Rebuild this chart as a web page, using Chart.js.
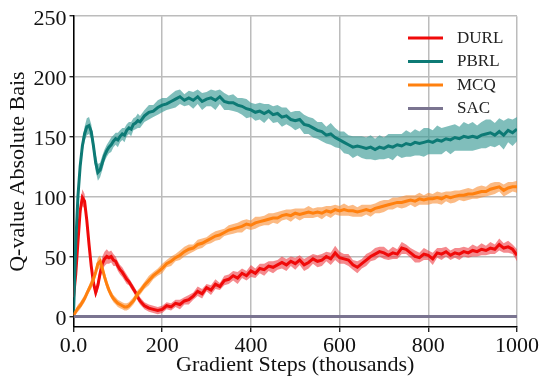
<!DOCTYPE html>
<html>
<head>
<meta charset="utf-8">
<script src="https://cdn.jsdelivr.net/npm/chart.js@4.4.0/dist/chart.umd.min.js"></script>
<style>
  html, body { margin: 0; padding: 0; background: #fff; }
  #wrap { width: 544px; height: 377px; }
</style>
</head>
<body>
<div id="wrap"><canvas id="chart_QBias" width="544" height="377"></canvas></div>
<script>
"use strict";

// Gradient steps (thousands): every 5k up to 150k, then every 10k
var steps = [
  0, 5, 10, 15, 20, 25, 30, 35, 40, 45, 50, 55, 60, 65, 70, 75, 80, 85, 90, 95, 100, 105, 110, 115, 120, 125, 130, 135, 140, 145, 150,
  160, 170, 180, 190, 200, 210, 220, 230, 240, 250,
  260, 270, 280, 290, 300, 310, 320, 330, 340, 350,
  360, 370, 380, 390, 400, 410, 420, 430, 440, 450,
  460, 470, 480, 490, 500, 510, 520, 530, 540, 550,
  560, 570, 580, 590, 600, 610, 620, 630, 640, 650,
  660, 670, 680, 690, 700, 710, 720, 730, 740, 750,
  760, 770, 780, 790, 800, 810, 820, 830, 840, 850,
  860, 870, 880, 890, 900, 910, 920, 930, 940, 950,
  960, 970, 980, 990, 1000
];

var durl_mean = [
  16, 35, 62, 88, 99, 96, 80, 60, 42, 28, 20, 26, 36, 44, 48, 50, 49, 50, 47, 46, 42, 39, 37, 34, 31, 29, 26, 23, 20, 16, 13,
  9, 7, 6, 5, 6, 9, 8, 11, 10, 13,
  14, 17, 21, 19, 24, 22, 27, 25, 30, 31,
  34, 32, 36, 34, 38, 36, 40, 39, 42, 41,
  43, 45, 43, 46, 44, 47, 43, 45, 48, 46,
  47, 50, 48, 53, 49, 48, 47, 43, 41, 44,
  47, 50, 52, 54, 53, 51, 53, 52, 57, 56,
  53, 50, 49, 52, 51, 48, 53, 52, 54, 51,
  53, 52, 54, 53, 55, 54, 56, 55, 57, 56,
  60, 57, 58, 56, 51
];
var durl_std = [
  3, 4, 5, 6, 7, 6, 5, 5, 4, 4, 4, 5, 5, 6, 6, 6, 5, 5, 5, 4, 4, 4, 4, 4, 4, 3, 3, 3, 3, 3, 3,
  3, 3, 3, 3, 3, 3, 3, 3, 4, 3,
  4, 3, 4, 4, 3, 4, 4, 3, 4, 4,
  4, 5, 4, 4, 5, 4, 4, 5, 4, 5,
  4, 5, 5, 4, 5, 4, 5, 5, 4, 5,
  5, 4, 5, 6, 5, 4, 5, 4, 5, 4,
  5, 4, 5, 4, 5, 4, 5, 4, 5, 4,
  4, 5, 4, 5, 4, 5, 4, 5, 4, 4,
  4, 5, 4, 4, 5, 4, 5, 4, 5, 4,
  5, 4, 5, 4, 5
];

var pbrl_mean = [
  2, 60, 100, 125, 142, 152, 158, 159, 154, 142, 128, 120, 122, 128, 134, 138, 141, 143, 146, 148, 147, 150, 152, 151, 155, 157, 156, 160, 161, 163, 162,
  167, 170, 171, 174, 176, 177, 179, 181, 183, 180,
  182, 180, 183, 179, 181, 182, 180, 183, 179, 178,
  178, 176, 175, 173, 172, 170, 171, 169, 171, 168,
  169, 166, 167, 164, 163, 164, 160, 159, 157, 155,
  154, 151, 152, 149, 147, 145, 143, 141, 142, 141,
  140, 141, 139, 141, 140, 142, 141, 143, 142, 144,
  143, 145, 144, 145, 146, 145, 147, 146, 148, 147,
  149, 148, 150, 149, 150, 149, 151, 152, 153, 151,
  154, 151, 155, 153, 156
];
var pbrl_std = [
  2, 4, 5, 5, 6, 6, 7, 7, 6, 6, 7, 7, 6, 6, 5, 5, 5, 6, 5, 5, 6, 5, 5, 6, 5, 5, 6, 5, 5, 6, 5,
  5, 6, 5, 6, 6, 5, 6, 7, 6, 5,
  6, 7, 6, 7, 6, 7, 8, 6, 7, 6,
  7, 6, 7, 8, 6, 7, 7, 8, 6, 7,
  7, 8, 7, 6, 8, 7, 8, 7, 8, 7,
  8, 7, 9, 8, 7, 9, 8, 9, 8, 9,
  9, 10, 9, 10, 9, 10, 11, 9, 10, 11,
  10, 11, 10, 12, 11, 10, 12, 11, 10, 12,
  11, 10, 12, 11, 12, 10, 11, 12, 11, 10,
  11, 12, 10, 11, 10
];

var mcq_mean = [
  1, 4, 7, 9, 12, 15, 19, 23, 27, 31, 37, 44, 46, 40, 33, 27, 22, 18, 15, 13, 11, 10, 9, 8, 8, 9, 11, 13, 16, 19, 21,
  26, 30, 34, 37, 40, 44, 46, 49, 51, 54,
  56, 57, 60, 61, 63, 65, 67, 68, 70, 72,
  73, 74, 75, 77, 76, 78, 79, 80, 81, 82,
  82, 84, 85, 84, 86, 85, 86, 87, 86, 87,
  86, 88, 87, 89, 88, 89, 88, 88, 87, 88,
  89, 88, 90, 91, 92, 93, 94, 95, 95, 96,
  97, 96, 98, 97, 98, 98, 99, 98, 100, 99,
  100, 101, 101, 102, 102, 103, 104, 104, 106, 107,
  108, 105, 107, 108, 108
];
var mcq_std = [
  2, 2, 3, 3, 3, 3, 3, 3, 4, 4, 4, 5, 5, 4, 4, 4, 3, 3, 3, 3, 3, 3, 3, 3, 3, 3, 3, 3, 3, 3, 3,
  3, 4, 3, 3, 4, 3, 4, 3, 4, 4,
  4, 3, 4, 4, 3, 4, 4, 4, 3, 4,
  4, 4, 5, 4, 4, 5, 4, 4, 5, 4,
  5, 4, 4, 5, 4, 5, 4, 5, 4, 4,
  5, 4, 5, 4, 4, 5, 4, 5, 4, 5,
  4, 5, 4, 5, 5, 4, 5, 4, 5, 5,
  4, 5, 5, 4, 5, 4, 5, 5, 4, 5,
  5, 4, 5, 5, 4, 5, 5, 4, 5, 5,
  4, 5, 5, 4, 5
];

// SAC stays flat at zero
var sac_steps = [0, 1000];
var sac_mean = [0, 0];

var x_ticks = [0, 200, 400, 600, 800, 1000];
var y_ticks = [0, 50, 100, 150, 200, 250];

var series_names = ['DURL', 'PBRL', 'MCQ', 'SAC'];


function _to_points(_xs, _mean, _std, _sign) {
  // _sign: 0 -> mean, +1 -> upper edge, -1 -> lower edge
  return _xs.map(function(_x, _i) {
    var _y = _mean[_i];
    if (_sign !== 0) { _y = _y + _sign * _std[_i]; }
    return {x: _x, y: _y};
  });
}

function _band(_label, _mean, _std, _fill, _order) {
  return [
    {
      label: _label + ' low',
      data: _to_points(steps, _mean, _std, -1),
      borderWidth: 0,
      pointRadius: 0,
      fill: false,
      order: _order
    },
    {
      label: _label + ' high',
      data: _to_points(steps, _mean, _std, 1),
      borderWidth: 0,
      pointRadius: 0,
      backgroundColor: _fill,
      fill: '-1',
      order: _order
    }
  ];
}

function _line(_label, _xs, _mean, _color, _order) {
  return {
    label: _label,
    data: _to_points(_xs, _mean, null, 0),
    borderColor: _color,
    borderWidth: 3,
    pointRadius: 0,
    tension: 0,
    fill: false,
    order: _order,
    _legend: true
  };
}

var _colors = {
  DURL: '#f00a0a',
  PBRL: '#0d7a75',
  MCQ: '#ff800e',
  SAC: '#7a7490'
};

var _datasets = [].concat(
  _band('DURL', durl_mean, durl_std, 'rgba(238, 60, 66, 0.6)', 9),
  [_line(series_names[0], steps, durl_mean, _colors.DURL, 8)],
  _band('PBRL', pbrl_mean, pbrl_std, 'rgba(60, 155, 150, 0.65)', 7),
  [_line(series_names[1], steps, pbrl_mean, _colors.PBRL, 6)],
  _band('MCQ', mcq_mean, mcq_std, 'rgba(248, 140, 50, 0.6)', 5),
  [_line(series_names[2], steps, mcq_mean, _colors.MCQ, 4)],
  [_line(series_names[3], sac_steps, sac_mean, _colors.SAC, 3)]
);


// Legend inside the plot, no frame
var _legend_plugin = {
  id: 'inner_legend',
  afterDraw: function(_chart) {
    var _ctx = _chart.ctx;
    var _right = _chart.chartArea.right;
    var _items = _chart.data.datasets.filter(function(_d) { return _d._legend; });

    _ctx.save();
    _ctx.font = '17px "Liberation Serif", "Times New Roman", serif';
    _ctx.textBaseline = 'middle';
    _ctx.textAlign = 'left';

    _items.forEach(function(_ds, _i) {
      var _y = 38 + _i * 23.5;
      _ctx.strokeStyle = _ds.borderColor;
      _ctx.lineWidth = 3;
      _ctx.beginPath();
      _ctx.moveTo(_right - 109, _y);
      _ctx.lineTo(_right - 74, _y);
      _ctx.stroke();
      _ctx.fillStyle = '#222';
      _ctx.fillText(_ds.label, _right - 60, _y + 0.5);
    });
    _ctx.restore();
  }
};


var _serif = '"Liberation Serif", "Times New Roman", serif';

var _chart_QBias = new Chart(document.getElementById('chart_QBias'), {
  type: 'line',
  data: { datasets: _datasets },
  plugins: [_legend_plugin],
  options: {
    responsive: false,
    animation: false,
    parsing: true,
    layout: { padding: { top: 16, right: 27, bottom: 0, left: 0 } },
    plugins: {
      legend: { display: false },
      tooltip: { enabled: false }
    },
    scales: {
      x: {
        type: 'linear',
        min: 0,
        max: 1000,
        afterBuildTicks: function(_s) { _s.ticks = x_ticks.map(function(_v) { return {value: _v}; }); },
        afterFit: function(_s) { _s.height = 50; },
        ticks: {
          autoSkip: false,
          maxRotation: 0,
          padding: 1,
          color: '#111',
          font: { family: _serif, size: 22 },
          callback: function(_v) { return _v === 0 ? '0.0' : String(_v); }
        },
        grid: { color: '#bcbcbc', lineWidth: 1.5, tickLength: 5, tickColor: '#000', tickWidth: 1.2 },
        border: { color: '#000', width: 1.5 },
        title: {
          display: true,
          text: 'Gradient Steps (thousands)',
          color: '#111',
          font: { family: _serif, size: 22, lineHeight: 1 },
          padding: { top: 0, bottom: 1 }
        }
      },
      y: {
        type: 'linear',
        min: -8.7,
        max: 250,
        afterBuildTicks: function(_s) { _s.ticks = y_ticks.map(function(_v) { return {value: _v}; }); },
        afterFit: function(_s) { _s.width = 73.5; },
        ticks: {
          autoSkip: false,
          padding: 3,
          labelOffset: 3,
          color: '#111',
          font: { family: _serif, size: 22 }
        },
        grid: { color: '#bcbcbc', lineWidth: 1.5, tickLength: 4, tickColor: '#000', tickWidth: 1.2 },
        border: { color: '#000', width: 1.5 },
        title: {
          display: true,
          text: 'Q-value Absolute Bais',
          color: '#111',
          font: { family: _serif, size: 22, lineHeight: 1 },
          padding: { top: 7.6, bottom: 0 }
        }
      }
    }
  }
});
</script>
</body>
</html>
